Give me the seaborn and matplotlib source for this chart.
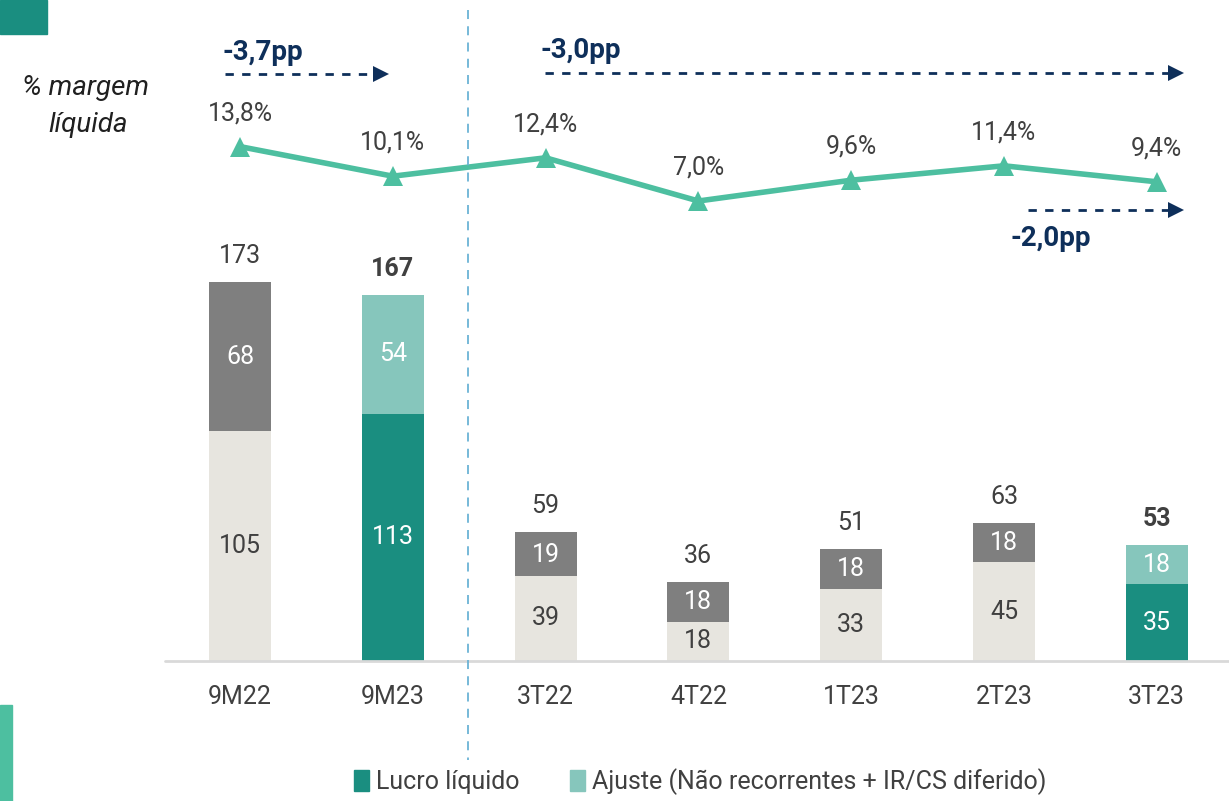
import seaborn as sns
import matplotlib.pyplot as plt
from matplotlib.patches import Rectangle, Patch

# Data
periodos = ["9M22", "9M23", "3T22", "4T22", "1T23", "2T23", "3T23"]
lucro_base = [105, 113, 39, 18, 33, 45, 35]
ajuste = [68, 54, 19, 18, 18, 18, 18]
totais = [173, 167, 59, 36, 51, 63, 53]
margem = [13.8, 10.1, 12.4, 7.0, 9.6, 11.4, 9.4]
margem_txt = ["13,8%", "10,1%", "12,4%", "7,0%", "9,6%", "11,4%", "9,4%"]
destaque = [False, True, False, False, False, False, True]

BEGE = "#E7E5DF"
CINZA = "#7F7F7F"
TEAL = "#1A8E80"
TEAL_CLARO = "#86C6BC"
VERDE = "#4DBFA0"
NAVY = "#0E2F5A"
TXT = "#404040"

sns.set_theme(style="white")
plt.rcParams["font.family"] = ["Roboto", "DejaVu Sans"]

W, H = 1229, 801
fig = plt.figure(figsize=(W / 100, H / 100), dpi=100)

# axes span full width, baseline at y=661px
base_px = 661
ax = fig.add_axes([0, (H - base_px) / H, 1, base_px / H])
step = 152.8
x0 = 240
ax.set_xlim(-x0 / step, (W - x0) / step)
ppu = 2.19
ax.set_ylim(0, base_px / ppu)

cor_base = [TEAL if d else BEGE for d in destaque]
cor_topo = [TEAL_CLARO if d else CINZA for d in destaque]

sns.barplot(x=periodos, y=totais, hue=periodos, palette=cor_topo, width=0.405,
            legend=False, ax=ax, saturation=1, linewidth=0)
sns.barplot(x=periodos, y=lucro_base, hue=periodos, palette=cor_base, width=0.405,
            legend=False, ax=ax, saturation=1, linewidth=0)
ax.set_xlim(-x0 / step, (W - x0) / step)
ax.set_ylim(0, base_px / ppu)
ax.axis("off")

# baseline
ax.plot([(165 - x0) / step, (W - x0) / step], [0, 0], color="#D9D9D9", lw=2,
        clip_on=False, zorder=5)

fs = 18
for i, (b, a, t) in enumerate(zip(lucro_base, ajuste, totais)):
    d = destaque[i]
    ax.text(i, b / 2, str(b), ha="center", va="center", fontsize=fs,
            color="white" if d else TXT)
    ax.text(i, b + a / 2, str(a), ha="center", va="center", fontsize=fs, color="white")
    ax.text(i, t + 26 / ppu, str(t), ha="center", va="center", fontsize=fs,
            color=TXT, fontweight="bold" if d else "normal")
    ax.text(i, -36 / ppu, periodos[i], ha="center", va="center", fontsize=fs,
            color=TXT, clip_on=False)

# margin line on twin axis
ax2 = ax.twinx()
zero_px = 257
ppp = 8.0
ax2.set_ylim((zero_px - base_px) / ppp, zero_px / ppp)
sns.lineplot(x=list(range(len(periodos))), y=margem, ax=ax2, color=VERDE, lw=4,
             marker="^", markersize=14, markeredgewidth=0, zorder=4)
ax2.set_xlim(-x0 / step, (W - x0) / step)
ax2.axis("off")
for i, (m, s) in enumerate(zip(margem, margem_txt)):
    ax2.annotate(s, (i, m), xytext=(0, 24), textcoords="offset points",
                 ha="center", va="center", fontsize=fs, color=TXT)


def px(xp, yp):
    return (xp - x0) / step, (base_px - yp) / ppu


# dashed arrows
def seta(x1, x2, y, label, lx, ly):
    a, yy = px(x1, y)
    b, _ = px(x2 - 10, y)
    ax.plot([a, b], [yy, yy], ls=(0, (3, 3)), color=NAVY, lw=2, clip_on=False)
    ax.plot([b + 6 / step], [yy], marker=">", color=NAVY, markersize=11,
            markeredgewidth=0, clip_on=False)
    tx, ty = px(lx, ly)
    ax.text(tx, ty, label, ha="left", va="center", fontsize=20, color=NAVY,
            fontweight="bold", clip_on=False)


seta(225, 385, 74, "-3,7pp", 222, 52)
seta(545, 1180, 73, "-3,0pp", 540, 50)
seta(1028, 1180, 210, "-2,0pp", 1010, 238)

# separator
fig.add_artist(plt.Line2D([468 / W, 468 / W], [1 - 10 / H, 1 - 760 / H],
                          color="#6BB3D6", lw=1.3, ls=(0, (5, 4))))

# side label
fig.text(85 / W, 1 - 88 / H, "% margem", ha="center", va="center", fontsize=20,
         style="italic", color="#202020")
fig.text(88 / W, 1 - 125 / H, "líquida", ha="center", va="center", fontsize=20,
         style="italic", color="#202020")

# decorative blocks
fig.add_artist(Rectangle((0, 1 - 34 / H), 47 / W, 34 / H, color=TEAL,
                         transform=fig.transFigure))
fig.add_artist(Rectangle((0, 0), 12 / W, 96 / H, color=VERDE,
                         transform=fig.transFigure))

# legend
handles = [Patch(color=TEAL, label="Lucro líquido"),
           Patch(color=TEAL_CLARO, label="Ajuste (Não recorrentes + IR/CS diferido)")]
fig.legend(handles=handles, loc="center", bbox_to_anchor=(700 / W, 1 - 782 / H),
           ncol=2, frameon=False, fontsize=fs, handlelength=0.6, handleheight=0.9,
           handletextpad=0.3, columnspacing=2.0, labelcolor=TXT)

fig.savefig("out.png", dpi=100)
